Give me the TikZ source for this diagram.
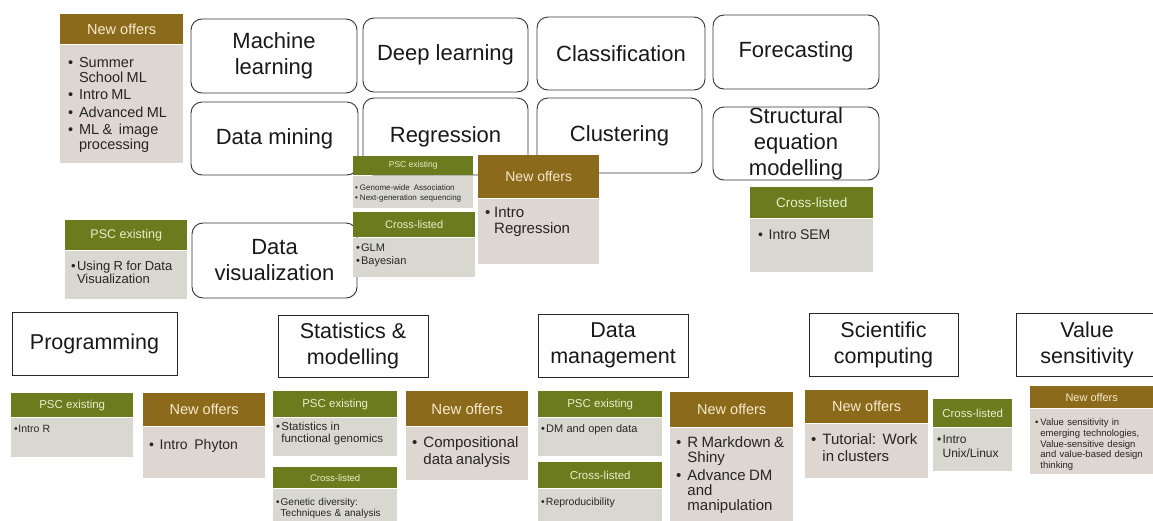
\documentclass[tikz,border=0pt]{standalone}
\usepackage{fontspec}
\setmainfont{Liberation Sans}
\definecolor{hbrown}{HTML}{8C6A1C}
\definecolor{hgreen}{HTML}{6C7B1E}
\definecolor{tbrown}{HTML}{F6EACB}
\definecolor{tgreen}{HTML}{E8F0CC}
\definecolor{bbrown}{HTML}{DDD6D1}
\definecolor{bgreen}{HTML}{D8D8D0}
\newcommand{\fsz}[2]{\fontsize{#1}{#2}\selectfont}
\newcommand{\bs}[5]{\fontsize{#1}{#2}\selectfont\setlength\parskip{#3pt}\vspace*{#4pt}\setlength\leftskip{#5pt}}
\newcommand{\bu}[2][0.75em]{\par\hangindent=#1\hangafter=1\noindent\makebox[#1][l]{\textbullet}#2}
\newcommand{\offer}[9]{%
  \node[hd#2, minimum width=#5pt, minimum height=#6pt] (#1h) at (#3,#4) {#8};
  \node[bd#2, minimum width=#5pt, minimum height=#7pt] (#1b) at (#1h.south west) {};
  \node[btext] (#1t) at (#1b.north west) {#9\par};
}
\tikzset{
  hdN/.style={fill=hbrown, text=tbrown, anchor=north west, inner sep=0pt},
  hdP/.style={fill=hgreen, text=tgreen, anchor=north west, inner sep=0pt},
  bdN/.style={fill=bbrown, anchor=north west, inner sep=0pt},
  bdP/.style={fill=bgreen, anchor=north west, inner sep=0pt},
  btext/.style={anchor=north west, inner sep=0pt, align=left, text width=300pt, text=black!85},
  topic/.style={draw=black!80, line width=0.9pt, rounded corners=11pt, fill=white, align=center,
    font=\fsz{22}{26}, inner sep=0pt, text=black!90},
  title/.style={draw=black!85, line width=0.9pt, fill=white, align=center,
    font=\fsz{21.5}{26}, inner sep=0pt, text=black!90}
}
\begin{document}
\begin{tikzpicture}[x=1pt,y=-1pt]
\useasboundingbox[fill=white] (0,0) rectangle (1153,520);
% topic boxes
\node[topic, minimum width=166pt, minimum height=74pt] (ml) at (274,56) {Machine\\learning};
\node[topic, minimum width=165pt, minimum height=74pt] (dl) at (445.5,55) {Deep learning};
\node[topic, minimum width=168pt, minimum height=73pt] (cl) at (621,53.5) {Classification};
\node[topic, minimum width=166pt, minimum height=74pt] (fc) at (796,52) {Forecasting};
\node[topic, minimum width=167pt, minimum height=73pt] (dm) at (274.5,138.5) {Data mining};
\node[topic, minimum width=165pt, minimum height=77pt] (rg) at (445.5,136.5) {Regression};
\node[topic, minimum width=165pt, minimum height=75pt] (cu) at (619.5,135.5) {Clustering};
\node[topic, minimum width=166pt, minimum height=73pt] (sem) at (796,143.5) {Structural\\equation\\modelling};
\node[topic, minimum width=165pt, minimum height=75pt] (dv) at (274.5,260.5) {Data\\visualization};
% title boxes
\node[title, minimum width=165pt, minimum height=63pt] (pr) at (94.5,343.5) {Programming};
\node[title, minimum width=150pt, minimum height=62pt] (st) at (353,346) {Statistics \&\\modelling};
\node[title, minimum width=150pt, minimum height=63pt] (dmg) at (613,345.5) {Data\\management};
\node[title, minimum width=149pt, minimum height=63pt] (sc) at (883.5,344.5) {Scientific\\computing};
\node[title, minimum width=142pt, minimum height=63pt] (vs) at (1087,344.5) {Value\\sensitivity};
% offer boxes
\offer{nML}{N}{60}{14}{123}{30}{118}{\fsz{14.5}{16}New offers}{\bs{14.5}{15}{2.5}{5}{8}\bu{Summer\newline School ML}\bu{Intro ML}\bu{Advanced ML}\bu{ML \& \ image\newline processing}}
\offer{pDV}{P}{65}{220}{122}{30}{48}{\fsz{12.5}{14}PSC existing}{\bs{13}{13.5}{0}{6}{6}\bu[0.45em]{Using R for Data\newline Visualization}}
\offer{pRG}{P}{353}{156}{120}{19}{32}{\fsz{8.5}{10}PSC existing}{\bs{8}{10.5}{0}{4}{2}\bu[0.6em]{Genome-wide\enspace Association}\bu[0.6em]{Next-generation sequencing}}
\offer{cRG}{P}{353}{212}{122}{25}{39}{\fsz{11}{13}Cross-listed}{\bs{11}{13}{0}{1}{3}\bu[0.45em]{GLM}\bu[0.45em]{Bayesian}}
\offer{nRG}{N}{478}{155}{121}{43}{65}{\fsz{14}{16}New offers}{\bs{15}{16}{0}{3}{7}\bu[0.6em]{Intro\newline Regression}}
\offer{cSEM}{P}{750}{187}{123}{31}{53}{\fsz{13.5}{15}Cross-listed}{\bs{14}{16}{0}{5}{8}\bu{Intro SEM}}
\offer{pPR}{P}{11}{393}{122}{24}{39}{\fsz{11.5}{13}PSC existing}{\bs{10.5}{12}{0}{3}{3}\bu[0.4em]{Intro R}}
\offer{nPR}{N}{143}{393}{122}{33}{51}{\fsz{14.5}{16}New offers}{\bs{14}{16}{0}{7}{6}\bu{Intro\ \ Phyton}}
\offer{pST}{P}{273}{391}{124}{26}{38}{\fsz{11.5}{13}PSC existing}{\bs{11.5}{12.5}{0}{0}{3}\bu[0.45em]{Statistics in\newline functional genomics}}
\offer{cST}{P}{273}{467}{124}{21}{33}{\fsz{9.5}{11}Cross-listed}{\bs{10}{11}{0}{6}{3}\bu[0.45em]{Genetic diversity:\newline Techniques \& analysis}}
\offer{nST}{N}{406}{391}{122}{35}{53}{\fsz{15}{17}New offers}{\bs{15}{17}{0}{4}{6}\bu{Compositional\newline data analysis}}
\offer{pDM}{P}{538}{391}{124}{26}{38}{\fsz{11.5}{13}PSC existing}{\bs{11}{12.5}{0}{2}{3}\bu[0.45em]{DM and open data}}
\offer{cDM}{P}{538}{462}{124}{26}{32}{\fsz{11.5}{13}Cross-listed}{\bs{10.5}{12}{0}{5}{3}\bu[0.45em]{Reproducibility}}
\offer{nDM}{N}{670}{392}{123}{35}{93}{\fsz{14.5}{16}New offers}{\bs{15}{15}{3}{2}{6}\bu{R Markdown \&\newline Shiny}\bu{Advance DM\newline and\newline manipulation}}
\offer{nSC}{N}{805}{390}{123}{33}{54}{\fsz{14.5}{16}New offers}{\bs{15}{17}{0}{4}{6}\bu{Tutorial:\ \ Work\newline in clusters}}
\offer{cSC}{P}{933}{399}{79}{28}{43}{\fsz{11.5}{13}Cross-listed}{\bs{12}{14}{0}{2}{4}\bu[0.45em]{Intro\newline Unix/Linux}}
\offer{nVS}{N}{1030}{386}{123}{22}{65}{\fsz{11}{12}New offers}{\bs{9.5}{10.8}{0}{6}{5}\bu[0.55em]{Value sensitivity in\newline emerging technologies,\newline Value-sensitive design\newline and value-based design\newline thinking}}
\end{tikzpicture}
\end{document}
